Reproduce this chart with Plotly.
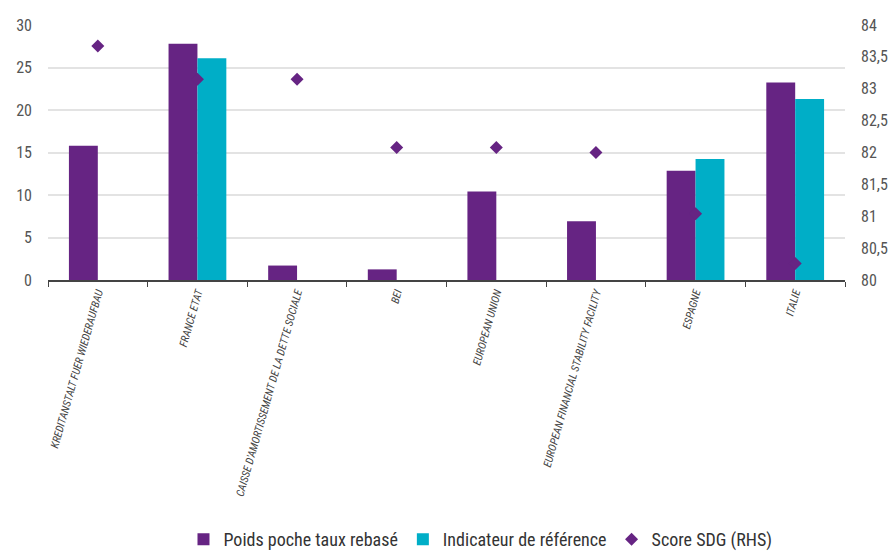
import plotly.graph_objects as go

categories = ["KREDITANSTALT FUER WIEDERAUFBAU", "FRANCE ETAT",
              "CAISSE D'AMORTISSEMENT DE LA DETTE SOCIALE", "BEI",
              "EUROPEAN UNION", "EUROPEAN FINANCIAL STABILITY FACILITY",
              "ESPAGNE", "ITALIE"]
poids_poche = [15.8, 27.8, 1.7, 1.25, 10.4, 6.9, 12.85, 23.25]
indicateur = [None, 26.1, None, None, None, None, 14.25, 21.3]
score_sdg = [83.67, 83.15, 83.15, 82.08, 82.08, 82.0, 81.04, 80.26]

left_ticks = [0, 5, 10, 15, 20, 25, 30]
right_ticks = [80, 80.5, 81, 81.5, 82, 82.5, 83, 83.5, 84]
right_ticktext = ["80", "80,5", "81", "81,5", "82", "82,5", "83", "83,5", "84"]

PURPLE = "#662483"
CYAN = "#00AEC7"
FONT = "Roboto Condensed, Roboto, sans-serif"

fig = go.Figure()
fig.add_trace(go.Bar(x=categories, y=poids_poche, name="Poids poche taux rebasé",
                     marker=dict(color=PURPLE, line=dict(width=0))))
fig.add_trace(go.Bar(x=categories, y=indicateur, name="Indicateur de référence",
                     marker=dict(color=CYAN, line=dict(width=0))))
fig.add_trace(go.Scatter(x=categories, y=score_sdg, name="Score SDG (RHS)", mode="markers",
                         yaxis="y2",
                         marker=dict(symbol="diamond", size=10, color=PURPLE)))

fig.update_layout(
    width=896, height=551,
    margin=dict(l=40, r=59, t=17, b=279, autoexpand=False),
    plot_bgcolor="white", paper_bgcolor="white",
    barmode="group", bargap=0.42, bargroupgap=0,
    separators=", ",
    font=dict(family=FONT, color="#555555", size=16),
    showlegend=True,
    legend=dict(orientation="h", x=0.17, xanchor="left", y=-1.09, yanchor="bottom",
                font=dict(family=FONT, size=18, color="#333333"),
                itemwidth=30, tracegroupgap=0, bgcolor="rgba(0,0,0,0)"),
    xaxis=dict(
        showline=True, linecolor="#444444", linewidth=1.5,
        ticks="outside", tickson="boundaries", ticklen=5, tickcolor="#444444",
        tickangle=-74, automargin=False,
        tickfont=dict(family=FONT, size=11, color="#444444", style="italic"),
        showgrid=False,
    ),
    yaxis=dict(
        range=[0, 30], tickvals=left_ticks, showgrid=True, gridcolor="#e3e3e3",
        gridwidth=1.5, zeroline=False, ticks="", ticklabelstandoff=15,
        automargin=False,
        tickfont=dict(family=FONT, size=16, color="#555555"),
    ),
    yaxis2=dict(
        range=[80, 84], tickvals=right_ticks, ticktext=right_ticktext,
        overlaying="y", side="right", showgrid=False, zeroline=False, ticks="",
        ticklabelstandoff=15, automargin=False,
        tickfont=dict(family=FONT, size=16, color="#555555"),
    ),
)

fig.write_html("out.html")
